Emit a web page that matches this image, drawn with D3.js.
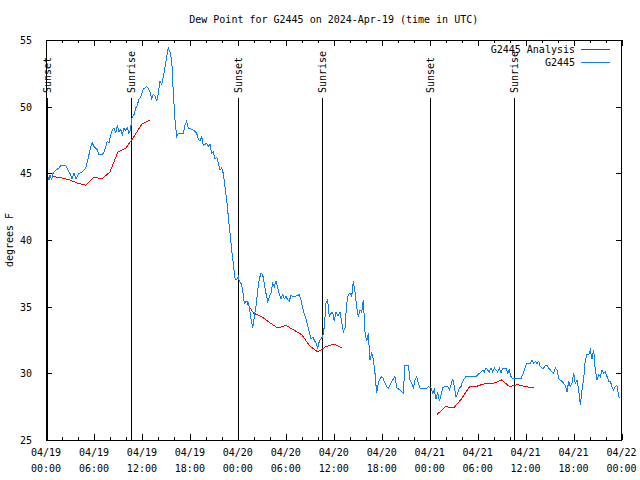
<!DOCTYPE html>
<html>
<head>
<meta charset="utf-8">
<script src="https://cdn.jsdelivr.net/npm/d3@7"></script>
<style>
  html, body { margin: 0; padding: 0; background: #fff; }
  svg text { font-family: "DejaVu Sans Mono", "Liberation Mono", monospace; font-size: 10px; fill: #000; }
</style>
</head>
<body>
<svg id="chart" width="640" height="480"></svg>
<script>
// ---------------- DATA ----------------
const titleText = "Dew Point for G2445 on 2024-Apr-19 (time in UTC)";
const yLabel = "degrees F";
const seriesNames = ["G2445 Analysis", "G2445"];

// hours since 2024-04-19 00:00 UTC
const obsTime = [0.25,0.38,0.50,0.69,0.88,1.13,1.63,1.84,2.46,2.63,2.88,3.09,3.25,3.50,3.75,4.13,4.50,4.97,5.13,5.38,
5.59,5.76,6.01,6.22,6.42,6.63,7.01,7.26,7.47,7.67,7.88,8.09,8.29,8.51,8.72,8.92,9.13,9.35,9.55,9.76,
9.97,10.17,10.38,10.60,10.67,10.80,11.01,11.22,11.42,11.64,11.85,12.05,12.26,12.39,12.60,12.80,13.01,13.22,13.42,13.64,
13.85,14.05,14.26,14.48,14.68,14.89,15.10,15.30,15.51,15.73,15.93,16.14,16.35,16.55,17.18,17.39,17.60,17.80,18.43,18.85,
19.05,19.27,19.48,19.68,20.11,20.31,20.52,20.73,20.93,21.14,21.36,21.56,21.77,21.98,22.18,22.39,22.61,22.81,23.02,23.23,
23.43,23.65,23.86,24.06,24.18,24.40,24.61,24.81,25.02,25.23,25.43,25.65,25.86,26.06,26.27,26.49,26.69,26.90,27.11,27.31,
27.52,27.74,27.94,28.15,28.36,28.56,28.78,28.99,29.19,29.40,29.61,29.81,30.03,30.24,30.44,30.65,30.86,31.06,31.69,31.90,
32.12,32.32,32.53,32.74,32.94,33.15,33.40,33.78,33.99,34.19,34.41,34.62,34.82,35.03,35.24,35.44,35.66,35.87,36.07,36.28,
36.53,36.78,36.99,37.20,37.41,37.62,37.82,38.03,38.25,38.45,38.66,38.87,39.07,39.28,39.50,39.70,39.91,40.12,40.32,40.54,
40.75,40.95,41.16,41.37,41.57,41.79,42.00,42.20,42.41,42.62,42.83,43.04,43.25,43.66,43.88,44.29,44.70,44.91,45.33,45.54,
45.75,45.95,46.17,46.38,46.58,46.79,47.63,47.83,48.17,48.38,48.58,48.79,49.01,49.21,49.42,49.63,49.83,50.26,50.46,50.67,
50.88,51.08,51.30,51.51,51.71,51.92,52.13,52.33,52.55,52.96,53.39,53.80,54.01,54.42,54.64,54.84,55.05,55.26,55.46,55.67,
55.89,56.09,56.30,56.51,56.71,56.93,57.14,57.55,57.76,57.96,58.18,58.39,59.01,59.43,59.64,59.84,60.05,60.18,60.59,60.80,
61.02,61.22,61.43,61.64,61.84,62.05,62.27,62.47,62.68,62.89,63.09,63.31,63.52,63.72,63.93,64.14,64.34,64.56,64.77,64.97,
65.18,65.39,65.59,65.81,66.02,66.22,66.43,66.64,66.85,67.06,67.27,67.47,67.68,67.89,68.10,68.31,68.52,68.72,68.93,69.15,
69.35,69.56,69.77,69.97,70.19,70.40,70.60,70.81,71.02,71.22,71.43,71.65,71.85];

const obsDewpt = [44.75,44.5,44.9,44.5,45.0,45.2,45.4,45.6,45.6,45.4,45.1,44.9,44.6,45.0,44.6,45.0,45.1,45.4,45.8,46.4,
47.0,47.3,47.0,46.9,46.75,46.4,46.4,46.6,47.0,47.4,47.3,47.9,48.25,48.4,48.0,48.6,48.1,48.3,47.9,48.4,
48.2,48.4,48.0,48.25,48.9,49.25,49.4,49.9,50.1,50.6,50.7,51.1,51.4,51.4,51.5,51.4,51.1,50.6,50.9,50.8,
50.4,51.0,51.9,51.7,52.25,53.0,53.75,54.4,54.1,53.5,51.0,49.0,47.75,48.0,48.0,48.6,48.9,48.4,48.25,48.0,
47.6,47.4,47.75,47.1,47.25,47.0,47.2,46.5,46.6,46.1,46.2,45.75,45.25,45.4,45.0,44.0,43.0,41.75,40.5,39.25,
38.25,37.1,37.0,37.25,36.9,36.75,36.25,35.25,35.4,35.4,35.0,34.1,33.4,34.25,35.0,36.25,37.1,37.5,37.4,36.75,
36.0,35.4,35.75,36.0,36.75,36.5,36.9,36.4,35.9,35.6,35.9,35.6,35.75,35.5,35.4,35.9,35.75,35.75,35.9,35.5,
34.9,34.4,34.1,33.6,33.1,32.6,32.7,32.25,31.9,32.4,32.6,32.75,33.5,35.25,35.5,34.25,34.5,34.6,33.9,34.6,
34.3,34.6,33.9,33.1,33.4,35.25,35.9,36.0,35.8,36.9,36.1,35.0,34.25,34.75,34.6,35.5,33.1,32.4,33.0,31.0,
31.5,31.1,30.0,28.5,29.25,29.6,29.75,29.6,29.25,29.0,28.9,29.1,29.4,29.75,28.9,28.75,28.5,30.6,30.6,29.5,
29.25,28.9,29.5,29.75,29.25,28.9,28.9,29.0,28.9,28.5,28.75,28.1,28.6,27.9,28.4,28.9,29.0,29.0,28.75,29.1,
29.6,29.0,28.25,28.5,28.9,29.0,29.4,29.6,29.75,29.75,29.75,29.75,29.9,30.1,30.25,30.1,30.4,30.25,30.1,30.4,
30.1,30.4,30.25,30.1,30.4,30.0,30.4,30.4,30.0,30.25,29.75,29.6,29.6,29.6,29.9,30.25,30.6,30.75,30.75,31.0,
30.75,30.9,30.75,30.9,30.5,30.4,30.4,30.6,30.6,30.4,30.25,30.1,30.0,30.4,30.25,29.6,29.5,29.4,29.25,29.1,
28.6,29.4,29.0,29.25,30.0,29.25,29.5,28.75,27.6,28.75,29.6,31.0,31.4,31.4,31.75,31.1,31.75,30.25,29.5,29.9,
29.75,30.25,30.0,30.1,29.75,29.4,29.4,29.0,28.75,29.0,29.1,28.25,28.1];

// analysis: null marks a gap between runs
const anaTime = [0.75,1,2,3,4,5,6,7,8,9,10,11,12,13,14,
                 25.1,26,27,28,29,30,31,32,33,34,35,36,37,38,
                 48.9,50,51,52,53,54,55,56,57,58,59,60,61];
const anaDewpt = [44.75,44.75,44.65,44.5,44.25,44.1,44.7,44.6,45.1,46.6,46.9,47.75,48.7,49.0,null,
                  35.3,34.5,34.25,33.8,33.4,33.6,33.25,32.9,32.05,31.6,32.0,32.2,31.9,null,
                  26.9,27.5,27.4,28.1,29.0,29.05,29.25,29.25,29.5,29.0,29.15,29.0,28.9];

const sunTime  = [0.08, 10.63, 24.08, 34.57, 48.08, 58.59];
const sunLabel = ["Sunset","Sunrise","Sunset","Sunrise","Sunset","Sunrise"];

const yTicks = [25,30,35,40,45,50,55];
const xMajorHours = [0,6,12,18,24,30,36,42,48,54,60,66,72];
const xMinorHours = d3.range(0, 73, 2);

// ---------------- CHART ----------------
const base = Date.UTC(2024, 3, 19);
const toDate = h => new Date(base + h * 3600e3);

const W = 640, H = 480;
const m = {left: 46, right: 18.5, top: 40, bottom: 40};
const svg = d3.select("#chart");

const x = d3.scaleUtc().domain([toDate(0), toDate(72)]).range([m.left, W - m.right]);
const y = d3.scaleLinear().domain([25, 55]).range([H - m.bottom, m.top]);

const fmtD = d3.utcFormat("%m/%d"), fmtT = d3.utcFormat("%H:%M");

// axes with gnuplot-like inward ticks
const gx = svg.append("g").attr("transform", `translate(0,${H - m.bottom})`)
  .call(d3.axisBottom(x).tickValues(xMajorHours.map(toDate)).tickSize(-6).tickFormat(""));
gx.select(".domain").remove();
svg.append("g").attr("transform", `translate(0,${H - m.bottom})`)
  .call(d3.axisBottom(x).tickValues(xMinorHours.map(toDate)).tickSize(-3).tickFormat(""))
  .select(".domain").remove();
svg.append("g").attr("transform", `translate(0,${m.top})`)
  .call(d3.axisTop(x).tickValues(xMajorHours.map(toDate)).tickSize(-6).tickFormat(""))
  .select(".domain").remove();
svg.append("g").attr("transform", `translate(0,${m.top})`)
  .call(d3.axisTop(x).tickValues(xMinorHours.map(toDate)).tickSize(-3).tickFormat(""))
  .select(".domain").remove();

const gy = svg.append("g").attr("transform", `translate(${m.left},0)`)
  .call(d3.axisLeft(y).tickValues(yTicks).tickSize(-6).tickPadding(14).tickFormat(d3.format("d")));
gy.select(".domain").remove();
gy.selectAll("text").attr("dy", "0.35em").style("font-family", "DejaVu Sans Mono").style("font-size", "10px");
svg.append("g").attr("transform", `translate(${W - m.right},0)`)
  .call(d3.axisRight(y).tickValues(yTicks).tickSize(-6).tickFormat(""))
  .select(".domain").remove();

svg.selectAll(".tick line").attr("stroke", "#000").attr("shape-rendering", "crispEdges");

// x tick labels (two lines)
const xl = svg.append("g");
xMajorHours.forEach(h => {
  const t = xl.append("text").attr("text-anchor", "middle")
    .attr("transform", `translate(${x(toDate(h))},0)`);
  t.append("tspan").attr("x", 0).attr("y", 456).text(fmtD(toDate(h)));
  t.append("tspan").attr("x", 0).attr("y", 472).text(fmtT(toDate(h)));
});

// border
svg.append("rect").attr("x", m.left).attr("y", m.top)
  .attr("width", W - m.left - m.right).attr("height", H - m.top - m.bottom)
  .attr("fill", "none").attr("stroke", "#000").attr("shape-rendering", "crispEdges");

// sun lines
const sun = svg.append("g");
sunTime.forEach((h, i) => {
  const sx = Math.round(x(toDate(h))) + 0.5;
  sun.append("line").attr("x1", sx).attr("x2", sx).attr("y1", 98).attr("y2", H - m.bottom)
    .attr("stroke", "#000").attr("shape-rendering", "crispEdges");
  sun.append("text").attr("transform", `translate(${sx + 3.5},93) rotate(-90)`)
    .attr("text-anchor", "start").text(sunLabel[i]);
});

// lines
const anaData = anaTime.map((t, i) => ({t, v: anaDewpt[i]}));
const obsData = obsTime.map((t, i) => ({t, v: obsDewpt[i]}));
const line = d3.line().defined(d => d.v != null).x(d => x(toDate(d.t))).y(d => y(d.v));

svg.append("path").datum(anaData).attr("d", line)
  .attr("fill", "none").attr("stroke", "#ff0000").attr("stroke-width", 1)
  .attr("shape-rendering", "crispEdges");
svg.append("path").datum(obsData).attr("d", line)
  .attr("fill", "none").attr("stroke", "#0a80ff").attr("stroke-width", 1)
  .attr("shape-rendering", "crispEdges");

// title & y label
svg.append("text").attr("x", (m.left + W - m.right) / 2).attr("y", 23)
  .attr("text-anchor", "middle").text(titleText);
svg.append("text").attr("transform", `translate(13,240) rotate(-90)`)
  .attr("text-anchor", "middle").text(yLabel);

// legend
const legColors = ["#ff0000", "#0a80ff"];
seriesNames.forEach((name, i) => {
  const ly = 49.5 + i * 13;
  svg.append("text").attr("x", 575).attr("y", ly + 3.5).attr("text-anchor", "end").text(name);
  svg.append("line").attr("x1", 581).attr("x2", 610).attr("y1", ly).attr("y2", ly)
    .attr("stroke", legColors[i]).attr("shape-rendering", "crispEdges");
});
</script>
</body>
</html>
